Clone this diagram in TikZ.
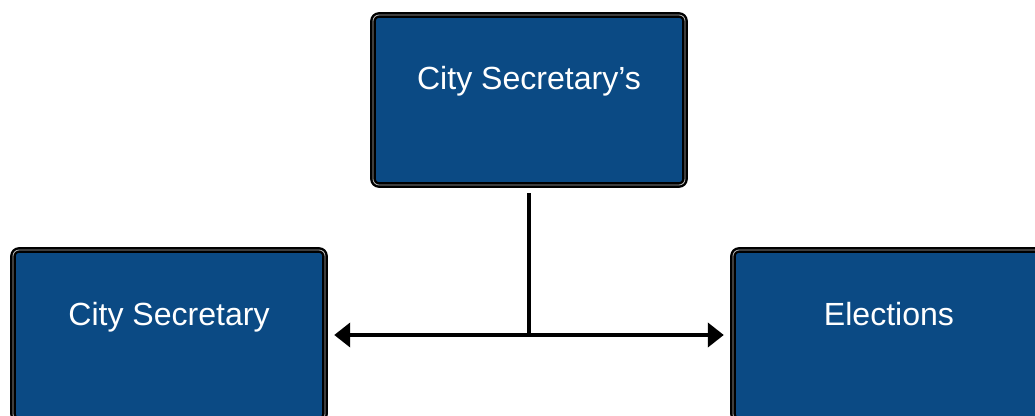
\documentclass[tikz,border=0pt]{standalone}
\usepackage{xcolor}
\usepackage{fontspec}
\setmainfont{Liberation Sans}
\usetikzlibrary{arrows.meta}
\definecolor{officeblue}{RGB}{11,74,132}

\tikzset{
  unitbox/.style={draw=black, line width=1.7pt, double=gray!60, double distance=0.6pt,
    fill=officeblue, rounded corners=0.15cm, minimum width=7.8cm, minimum height=4.25cm},
  unitlabel/.style={text=white, font=\fontsize{22.8}{27}\selectfont, inner sep=0pt, anchor=base},
  link/.style={line width=0.1cm, black}
}

\begin{document}
\begin{tikzpicture}
\useasboundingbox (0,0) rectangle (25.875,-10.4);

% Office boxes
\node[unitbox] (office) at (13.225,-2.5) {};
\node[unitlabel] (officetext) at ([yshift=0.27cm]office.center) {City Secretary’s};

\node[unitbox] (secretary) at (4.225,-8.375) {};
\node[unitlabel] (secretarytext) at ([yshift=0.25cm]secretary.center) {City Secretary};

\node[unitbox] (elections) at (22.225,-8.375) {};
\node[unitlabel] (electionstext) at ([yshift=0.25cm]elections.center) {Elections};

% Connections
\coordinate (junction) at (office.south |- secretary.east);
\draw[link] ([yshift=-0.175cm]office.south) -- (junction);
\draw[link, {Triangle[length=0.4cm,width=0.6cm]}-{Triangle[length=0.4cm,width=0.6cm]}]
  ([xshift=0.2cm]secretary.east) -- ([xshift=-0.2cm]elections.west);
\end{tikzpicture}
\end{document}
